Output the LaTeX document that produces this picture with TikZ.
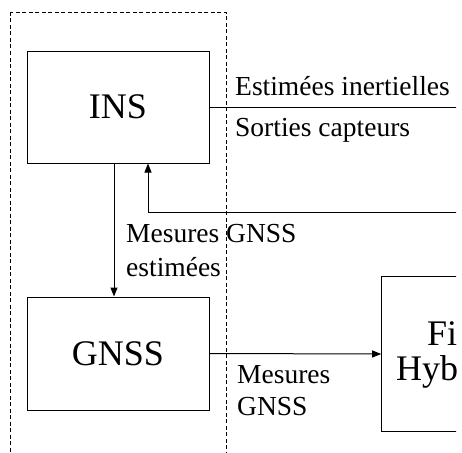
\documentclass[tikz,border=0pt]{standalone}
\usepackage{fontspec}
\setmainfont{Liberation Serif}
\usetikzlibrary{arrows.meta}
\begin{document}
\begin{tikzpicture}[x=1pt,y=-1pt,
  blk/.style={draw,line width=1pt,inner sep=0pt,font=\fontsize{36}{36}\selectfont},
  lbl/.style={anchor=base west,inner sep=0pt,font=\fontsize{27.5}{34}\selectfont},
  conn/.style={line width=1pt},
  arr/.style={line width=1pt,-{Triangle[length=9pt,width=7pt]}},
  group/.style={draw,line width=0.8pt,dash pattern=on 4pt off 2.5pt}]
\useasboundingbox (0,0) rectangle (462,452);
\fill[white] (0,0) rectangle (462,452);
\clip (0,0) rectangle (456,452);
\draw[group] (10,12) rectangle (226,480);
\node[blk,minimum width=182pt,minimum height=112pt] (ins) at (118,107) {INS};
\node[blk,minimum width=182pt,minimum height=113pt] (gnss) at (118,353.5) {GNSS};
\node[blk,minimum height=155.5pt,inner xsep=14.3pt,text width=151.4pt,align=left] (filt) at (471.7,354) {\hspace*{31pt}Filtre\\[-1pt]Hybride};
\coordinate (insout) at (480,107);
\coordinate (fb) at (480,212);
\draw[conn] (ins.east) -- (insout);
\draw[arr] (fb) -| ([xshift=30pt]ins.south);
\draw[arr] ([xshift=-4pt]ins.south) -- ([xshift=-4pt]gnss.north);
\draw[arr] (gnss.east) -- (filt.west);
\node[lbl] (l1) at (235,95.7) {Estimées inertielles};
\node[lbl] (l2) at (235,136.7) {Sorties capteurs};
\node[lbl] (l3) at (126,242.7) {Mesures GNSS};
\node[lbl] (l4) at (126,276.7) {estimées};
\node[lbl] (l5) at (237,383) {Mesures};
\node[lbl] (l6) at (237,415) {GNSS};
\end{tikzpicture}
\end{document}
